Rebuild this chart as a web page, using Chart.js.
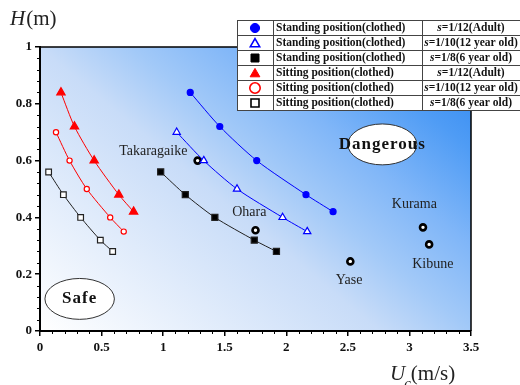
<!DOCTYPE html>
<html><head><meta charset="utf-8">
<script src="https://cdn.jsdelivr.net/npm/chart.js@4"></script>
<style>html,body{margin:0;padding:0;background:#fff;}canvas{display:block;}</style>
</head><body>
<canvas id="c" width="520" height="385"></canvas>
<script>
// ---- data ----
const standAdultX = [1.22, 1.46, 1.76, 2.16, 2.38];
const standAdultY = [0.84, 0.72, 0.60, 0.48, 0.42];
const standChildX = [1.11, 1.33, 1.60, 1.97, 2.17];
const standChildY = [0.70, 0.60, 0.50, 0.40, 0.35];
const standKidX   = [0.98, 1.18, 1.42, 1.74, 1.92];
const standKidY   = [0.56, 0.48, 0.40, 0.32, 0.28];
const sitAdultX   = [0.17, 0.28, 0.44, 0.64, 0.76];
const sitAdultY   = [0.84, 0.72, 0.60, 0.48, 0.42];
const sitChildX   = [0.13, 0.24, 0.38, 0.57, 0.68];
const sitChildY   = [0.70, 0.60, 0.50, 0.40, 0.35];
const sitKidX     = [0.07, 0.19, 0.33, 0.49, 0.59];
const sitKidY     = [0.56, 0.48, 0.40, 0.32, 0.28];
const siteNames = ['Takaragaike', 'Ohara', 'Kurama', 'Kibune', 'Yase'];
const siteX = [1.28, 1.75, 3.11, 3.16, 2.52];
const siteY = [0.60, 0.355, 0.365, 0.305, 0.245];
// label anchors (data units)
const siteLabelX = [0.92, 1.70, 3.04, 3.19, 2.51];
const siteLabelY = [0.634, 0.419, 0.447, 0.236, 0.180];
const xTicks = [0, 0.5, 1, 1.5, 2, 2.5, 3, 3.5];
const yTicks = [0, 0.2, 0.4, 0.6, 0.8, 1];
const legendLabels = ['Standing position(clothed)','Standing position(clothed)','Standing position(clothed)',
  'Sitting position(clothed)','Sitting position(clothed)','Sitting position(clothed)'];
const legendScales = ['=1/12(Adult)','=1/10(12 year old)','=1/8(6 year old)','=1/12(Adult)','=1/10(12 year old)','=1/8(6 year old)'];
const regions = [
  {text:'Dangerous', x:2.78, y:0.657, rx:0.28, ry:0.072},
  {text:'Safe', x:0.322, y:0.113, rx:0.282, ry:0.072}
];

const zip = (xs, ys) => xs.map((x, i) => ({x, y: ys[i]}));
const SERIF = '"Liberation Serif","DejaVu Serif",serif';

// ---- styles ----
const styles = [
  {color:'#0000ff', style:'circle',   fill:'#0000ff', r:3,   bw:1},
  {color:'#0000ff', style:'triangle', fill:'#ffffff', r:4.2, bw:1},
  {color:'#222222', style:'rect',     fill:'#000000', r:4.3, bw:1},
  {color:'#ff0000', style:'triangle', fill:'#ff0000', r:4.8, bw:1},
  {color:'#ff0000', style:'circle',   fill:'#ffffff', r:2.6, bw:1},
  {color:'#222222', style:'rect',     fill:'#ffffff', r:4.0, bw:1}
];
const series = [zip(standAdultX, standAdultY), zip(standChildX, standChildY), zip(standKidX, standKidY),
  zip(sitAdultX, sitAdultY), zip(sitChildX, sitChildY), zip(sitKidX, sitKidY)];

const datasets = series.map((d, i) => ({
  data: d, showLine: true, tension: 0.25,
  borderColor: styles[i].color, borderWidth: 1,
  pointStyle: styles[i].style, pointRadius: styles[i].r,
  pointBackgroundColor: styles[i].fill, pointBorderColor: styles[i].color, pointBorderWidth: 1.2
}));
datasets.push({
  data: zip(siteX, siteY), showLine: false,
  pointStyle: 'circle', pointRadius: 3, pointBorderWidth: 2.6,
  pointBorderColor: '#000', pointBackgroundColor: '#fff'
});

function marker(ctx, style, x, y, r, fill, stroke, lw) {
  ctx.save();
  ctx.beginPath();
  if (style === 'circle') ctx.arc(x, y, r, 0, Math.PI * 2);
  else if (style === 'rect') ctx.rect(x - r, y - r, 2 * r, 2 * r);
  else { ctx.moveTo(x, y - r); ctx.lineTo(x + r * 0.866, y + r * 0.5); ctx.lineTo(x - r * 0.866, y + r * 0.5); ctx.closePath(); }
  ctx.fillStyle = fill; ctx.fill();
  ctx.strokeStyle = stroke; ctx.lineWidth = lw; ctx.stroke();
  ctx.restore();
}

const decor = {
  id: 'decor',
  beforeDraw(chart) {
    const {ctx, chartArea: a, scales: {x, y}} = chart;
    ctx.save();
    // gradient direction (1, 1.2) in screen-up space from bottom-left
    const dx = 1, dy = 1.2, dl = Math.hypot(dx, dy);
    const ux = dx / dl, uy = dy / dl;
    const len = (a.width * dx + a.height * dy) / dl;
    const g = ctx.createLinearGradient(a.left, a.bottom, a.left + ux * len, a.bottom - uy * len);
    g.addColorStop(0, '#ffffff');
    g.addColorStop(0.44, '#c8dcf8');
    g.addColorStop(0.56, '#a2c9f8');
    g.addColorStop(0.69, '#80b6f8');
    g.addColorStop(0.84, '#4f9cf5');
    g.addColorStop(1, '#2a84f0');
    ctx.fillStyle = g;
    ctx.fillRect(a.left, a.top, a.width, a.height);
    // region ellipses
    regions.forEach(r => {
      const cx = x.getPixelForValue(r.x), cy = y.getPixelForValue(r.y);
      const rx = Math.abs(x.getPixelForValue(r.x + r.rx) - cx);
      const ry = Math.abs(y.getPixelForValue(r.y + r.ry) - cy);
      ctx.beginPath(); ctx.ellipse(cx, cy, rx, ry, 0, 0, Math.PI * 2);
      ctx.fillStyle = '#fff'; ctx.fill();
      ctx.strokeStyle = '#333'; ctx.lineWidth = 1; ctx.stroke();
      ctx.fillStyle = '#111';
      ctx.font = 'bold 17px ' + SERIF;
      ctx.letterSpacing = '1px';
      ctx.textAlign = 'center'; ctx.textBaseline = 'middle';
      ctx.fillText(r.text, cx, cy);
      ctx.letterSpacing = '0px';
    });
    ctx.restore();
  },
  afterDatasetsDraw(chart) {
    const {ctx, scales: {x, y}} = chart;
    ctx.save();
    ctx.font = '14px ' + SERIF;
    ctx.fillStyle = '#222';
    ctx.textAlign = 'center'; ctx.textBaseline = 'middle';
    siteNames.forEach((n, i) => ctx.fillText(n, x.getPixelForValue(siteLabelX[i]), y.getPixelForValue(siteLabelY[i])));
    ctx.restore();
  },
  afterDraw(chart) {
    const {ctx, chartArea: a, scales: {x, y}} = chart;
    ctx.save();
    // minor ticks
    ctx.strokeStyle = '#000'; ctx.lineWidth = 1;
    ctx.beginPath();
    for (let v = 0.1; v < 3.5; v += 0.1) {
      if (Math.abs(v / 0.5 - Math.round(v / 0.5)) < 1e-6) continue;
      const px = Math.round(x.getPixelForValue(v)) + 0.5;
      ctx.moveTo(px, a.bottom); ctx.lineTo(px, a.bottom + 3);
    }
    for (let v = 0.04; v < 1; v += 0.04) {
      if (Math.abs(v / 0.2 - Math.round(v / 0.2)) < 1e-6) continue;
      const py = Math.round(y.getPixelForValue(v)) + 0.5;
      ctx.moveTo(a.left, py); ctx.lineTo(a.left - 3, py);
    }
    ctx.stroke();
    // frame top/right
    ctx.lineWidth = 1.5;
    ctx.beginPath();
    ctx.moveTo(a.left, a.top); ctx.lineTo(a.right, a.top); ctx.lineTo(a.right, a.bottom);
    ctx.stroke();
    // axis titles
    ctx.fillStyle = '#222'; ctx.textBaseline = 'alphabetic'; ctx.textAlign = 'left';
    ctx.font = 'italic 21px ' + SERIF;
    ctx.fillText('H', 10, 25);
    let w = ctx.measureText('H').width;
    ctx.font = '21px ' + SERIF;
    ctx.fillText('(m)', 10 + w + 1, 25);
    ctx.font = 'italic 21px ' + SERIF;
    ctx.fillText('U', 390, 380);
    w = ctx.measureText('U').width;
    ctx.font = 'italic 15px ' + SERIF;
    ctx.fillText('c', 390 + w - 1, 388);
    const wc = ctx.measureText('c').width;
    ctx.font = '21px ' + SERIF;
    ctx.fillText('(m/s)', 390 + w + wc - 1, 380);
    // legend table
    const L = 237, C1 = 273, C2 = 422, R = 522, T = 20, RH = 15;
    ctx.fillStyle = '#fff';
    ctx.fillRect(L, T, R - L, RH * 6);
    ctx.strokeStyle = '#444'; ctx.lineWidth = 1;
    ctx.beginPath();
    for (let i = 0; i <= 6; i++) { ctx.moveTo(L, T + i * RH + 0.5); ctx.lineTo(R, T + i * RH + 0.5); }
    [L, C1, C2].forEach(cx => { ctx.moveTo(cx + 0.5, T); ctx.lineTo(cx + 0.5, T + RH * 6); });
    ctx.stroke();
    const legSizes = [4.6, 5.4, 4.0, 5.6, 5.2, 4.0];
    legendLabels.forEach((lab, i) => {
      const cy = T + i * RH + RH / 2 + 0.5;
      const s = styles[i];
      marker(ctx, s.style, 255, cy + (s.style === 'triangle' ? 1 : 0), legSizes[i], s.fill, s.color === '#222222' ? '#000' : s.color, s.fill === '#ffffff' ? 1.6 : 1);
      ctx.fillStyle = '#111'; ctx.textBaseline = 'middle'; ctx.textAlign = 'left';
      ctx.font = 'bold 11.5px ' + SERIF;
      ctx.fillText(lab, 276, cy + 0.5);
      ctx.font = 'bold italic 11.5px ' + SERIF;
      const ws = ctx.measureText('s').width;
      ctx.font = 'bold 11.5px ' + SERIF;
      const wr = ctx.measureText(legendScales[i]).width;
      const sx = 471 - (ws + wr) / 2;
      ctx.font = 'bold italic 11.5px ' + SERIF;
      ctx.fillText('s', sx, cy + 0.5);
      ctx.font = 'bold 11.5px ' + SERIF;
      ctx.fillText(legendScales[i], sx + ws, cy + 0.5);
    });
    ctx.restore();
  }
};

const tickFont = {family: SERIF, weight: 'bold', size: 13};
new Chart(document.getElementById('c'), {
  type: 'scatter',
  data: {datasets},
  options: {
    responsive: false, animation: false, devicePixelRatio: 1,
    layout: {padding: {left: 0, top: 47, right: 49, bottom: 24}},
    plugins: {legend: {display: false}, tooltip: {enabled: false}},
    scales: {
      x: {
        type: 'linear', min: 0, max: 3.5,
        afterBuildTicks: s => { s.ticks = xTicks.map(v => ({value: v})); },
        ticks: {font: tickFont, color: '#111', padding: 4, maxRotation: 0, autoSkip: false,
          callback: v => String(v)},
        grid: {drawOnChartArea: false, drawTicks: true, tickLength: 5, color: '#000', lineWidth: 1.5},
        border: {display: true, color: '#000', width: 2},
        afterFit: s => { s.height = 30; }
      },
      y: {
        type: 'linear', min: 0, max: 1,
        afterBuildTicks: s => { s.ticks = yTicks.map(v => ({value: v})); },
        ticks: {font: tickFont, color: '#111', padding: 3, autoSkip: false,
          callback: v => String(v)},
        grid: {drawOnChartArea: false, drawTicks: true, tickLength: 5, color: '#000', lineWidth: 1.5},
        border: {display: true, color: '#000', width: 2},
        afterFit: s => { s.width = 40; }
      }
    }
  },
  plugins: [decor]
});
</script>
</body></html>
